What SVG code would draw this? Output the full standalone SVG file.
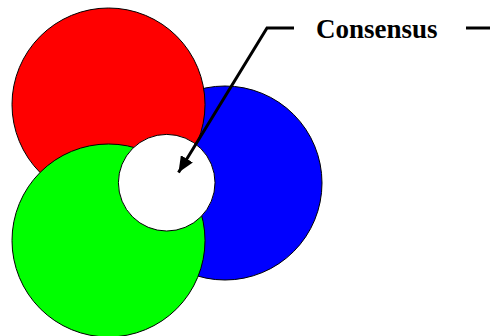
<svg xmlns="http://www.w3.org/2000/svg" width="490" height="336" viewBox="0 0 490 336">
  <style>
    .c { stroke: #000; stroke-width: 1; }
    .conn { fill: none; stroke: #000; stroke-width: 3; }
    .lbl { font-family: "Liberation Serif", "Times New Roman", serif; font-weight: bold; font-size: 27px; fill: #000; }
  </style>
  <defs>
    <marker id="ah" markerUnits="userSpaceOnUse" markerWidth="18" markerHeight="14" refX="16" refY="7" orient="auto">
      <path d="M0,0 L16,7 L0,14 Z" fill="#000"/>
    </marker>
  </defs>
  <g id="blue"><circle class="c" cx="225" cy="183" r="97" fill="#0000FF"/></g>
  <g id="red"><circle class="c" cx="108.5" cy="104.5" r="96.5" fill="#FF0000"/></g>
  <g id="green"><circle class="c" cx="108.5" cy="240.5" r="96.5" fill="#00FF00"/></g>
  <g id="consensus-area"><circle class="c" cx="166.7" cy="182.7" r="48.3" fill="#FFFFFF"/></g>
  <g id="connectors">
    <polyline class="conn" points="294,28 267,28 178.5,172.5" marker-end="url(#ah)"/>
    <line class="conn" x1="466" y1="28" x2="490" y2="28"/>
  </g>
  <g id="label"><text class="lbl" x="316" y="37.5">Consensus</text></g>
</svg>
